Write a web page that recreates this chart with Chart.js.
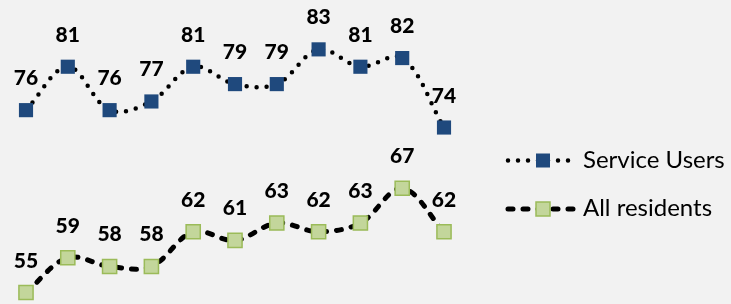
<!DOCTYPE html>
<html>
<head>
<meta charset="utf-8">
<script src="https://cdn.jsdelivr.net/npm/chart.js@4"></script>
<style>
  html, body { margin: 0; padding: 0; background: #f2f2f2; }
  #wrap { position: relative; width: 731px; height: 304px; }
  canvas { display: block; }
  .leg { position: absolute; left: 583px; font: 24px Lato, sans-serif; color: #000; line-height: 20px; white-space: nowrap; }
</style>
</head>
<body>
<div id="wrap">
  <canvas id="chart" width="731" height="304"></canvas>
  <div class="leg" style="top:148.5px">Service Users</div>
  <div class="leg" style="top:196.8px">All residents</div>
</div>
<script>
const categories = ['1', '2', '3', '4', '5', '6', '7', '8', '9', '10', '11'];
const serviceUsers = [76, 81, 76, 77, 81, 79, 79, 83, 81, 82, 74];
const allResidents = [55, 59, 58, 58, 62, 61, 63, 62, 63, 67, 62];
const seriesNames = ['Service Users', 'All residents'];

// number above each point
const valueLabels = {
  id: 'valueLabels',
  afterDatasetsDraw(chart) {
    const ctx = chart.ctx;
    ctx.save();
    ctx.font = '900 21px Lato';
    ctx.fillStyle = '#000';
    ctx.textAlign = 'center';
    ctx.textBaseline = 'alphabetic';
    chart.data.datasets.forEach((ds, i) => {
      chart.getDatasetMeta(i).data.forEach((pt, j) => {
        ctx.fillText(ds.data[j], pt.x, pt.y - 25);
      });
    });
    ctx.restore();
  }
};

// line + marker samples for the legend on the right
const legendSamples = {
  id: 'legendSamples',
  afterDraw(chart) {
    const ctx = chart.ctx;
    const rows = [160.5, 209];
    chart.data.datasets.forEach((ds, i) => {
      const y = rows[i];
      ctx.save();
      ctx.lineWidth = ds.borderWidth;
      ctx.strokeStyle = ds.borderColor;
      ctx.lineCap = 'round';
      ctx.setLineDash(ds.borderDash);
      ctx.beginPath();
      ctx.moveTo(508, y);
      ctx.lineTo(576, y);
      ctx.stroke();
      ctx.setLineDash([]);
      const s = 14;
      ctx.fillStyle = ds.pointBackgroundColor;
      ctx.fillRect(543 - s / 2, y - s / 2, s, s);
      if (ds.pointBorderWidth) {
        ctx.lineWidth = ds.pointBorderWidth;
        ctx.strokeStyle = ds.pointBorderColor;
        ctx.strokeRect(543 - s / 2, y - s / 2, s, s);
      }
      ctx.restore();
    });
  }
};

new Chart(document.getElementById('chart'), {
  type: 'line',
  data: {
    labels: categories,
    datasets: [{
      label: seriesNames[0],
      data: serviceUsers,
      borderColor: '#000',
      borderWidth: 4.5,
      borderDash: [0, 10],
      borderCapStyle: 'round',
      tension: 0.35,
      pointStyle: 'rect',
      pointRadius: 10,
      pointBackgroundColor: '#1f497d',
      pointBorderColor: '#1f497d',
      pointBorderWidth: 0,
      clip: false
    }, {
      label: seriesNames[1],
      data: allResidents,
      borderColor: '#000',
      borderWidth: 5,
      borderDash: [5, 10],
      borderCapStyle: 'round',
      tension: 0.35,
      pointStyle: 'rect',
      pointRadius: 10,
      pointBackgroundColor: '#c3d69b',
      pointBorderColor: '#9bbb59',
      pointBorderWidth: 1.5,
      clip: false
    }]
  },
  options: {
    responsive: false,
    animation: false,
    layout: { padding: { left: 26, right: 287, top: 32, bottom: 11 } },
    scales: {
      x: { display: false, offset: false },
      y: { display: false, min: 55, max: 85 }
    },
    plugins: {
      legend: { display: false },
      tooltip: { enabled: false }
    }
  },
  plugins: [valueLabels, legendSamples]
});
</script>
</body>
</html>
